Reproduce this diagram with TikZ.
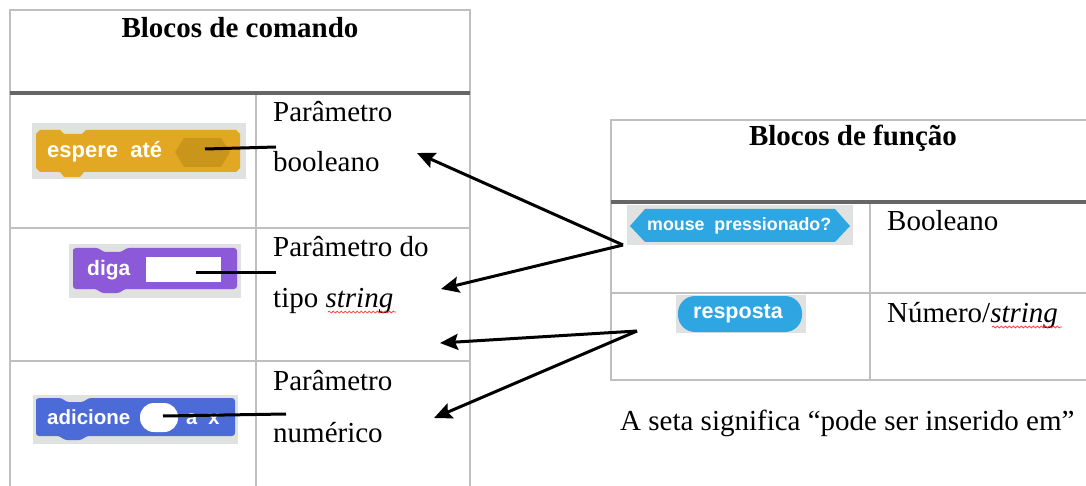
\documentclass[tikz,border=0pt]{standalone}
\usepackage{fontspec}
\setmainfont{Liberation Serif}
\setsansfont{Liberation Sans}
\usetikzlibrary{arrows.meta,decorations.pathmorphing}

\definecolor{cinzaLinha}{HTML}{BFBFBF}
\definecolor{cinzaForte}{HTML}{666666}
\definecolor{fundoBloco}{HTML}{E0E1E1}
\definecolor{laranja}{HTML}{E3A823}
\definecolor{laranjaEsc}{HTML}{C9951B}
\definecolor{roxo}{HTML}{8C59D9}
\definecolor{azul}{HTML}{4C6BD6}
\definecolor{azulClaro}{HTML}{2EA6E2}

\tikzset{
  tabthin/.style={draw=cinzaLinha,line width=1.3pt},
  tabthick/.style={draw=cinzaForte,line width=4pt},
  seta/.style={line width=3pt,-{Stealth[length=18pt,width=16pt,inset=3pt]}},
  ligacao/.style={line width=3pt},
  rotulo/.style={anchor=base west,inner sep=0pt,font=\fontsize{29}{29}\selectfont},
  cabec/.style={anchor=base,inner sep=0pt,font=\fontsize{29}{29}\selectfont\bfseries},
  txtbloco/.style={anchor=west,inner sep=0pt,text=white,font=\sffamily\bfseries\fontsize{#1}{#1}\selectfont},
  sublinhado/.style={draw=red!80,line width=0.7pt,decorate,decoration={snake,amplitude=1pt,segment length=4pt}}
}

\begin{document}
\begin{tikzpicture}[x=1pt,y=-1pt]
  \useasboundingbox (0,0) rectangle (1086,486);
  \fill[white] (0,0) rectangle (1086,486);

  % tabela da esquerda
  \draw[tabthin] (10,487) -- (10,10) -- (470,10) -- (470,487);
  \draw[tabthin] (256,93) -- (256,487);
  \draw[tabthin] (10,228) -- (470,228);
  \draw[tabthin] (10,361) -- (470,361);
  \draw[tabthick] (10,93) -- (470,93);
  \node[cabec] (cabComando) at (240,38) {Blocos de comando};

  % tabela da direita
  \draw[tabthin] (1087,120) -- (611,120) -- (611,380) -- (1087,380);
  \draw[tabthin] (870,202) -- (870,380);
  \draw[tabthin] (611,293) -- (1087,293);
  \draw[tabthick] (611,202) -- (1087,202);
  \node[cabec] (cabFuncao) at (853,146) {Blocos de função};

  % textos das células
  \node[rotulo] (par1a) at (273,122) {Parâmetro};
  \node[rotulo] (par1b) at (273,172) {booleano};
  \node[rotulo] (par2a) at (273,257) {Parâmetro do};
  \node[rotulo] (par2b) at (273,307) {tipo \textit{string}};
  \node[rotulo] (par3a) at (273,390) {Parâmetro};
  \node[rotulo] (par3b) at (273,442) {numérico};
  \node[rotulo] (tipoBool) at (887,231) {Booleano};
  \node[rotulo] (tipoNum) at (887,322) {Número/\textit{string}};
  \node[rotulo] (legenda) at (620,430) {A seta significa “pode ser inserido em”};
  \draw[sublinhado] (328,312) -- (396,312);
  \draw[sublinhado] (992,327) -- (1062,327);

  % bloco espere até
  \fill[fundoBloco] (32,123) rectangle (246,179);
  \fill[laranja] (36,134) -- (36,168) -- (40,172) -- (60,172) -- (64,177) -- (80,177)
    -- (84,172) -- (236,172) -- (240,168) -- (240,134) -- (236,130) -- (86,130)
    -- (82,134) -- (64,134) -- (60,130) -- (40,130) -- cycle;
  \fill[laranjaEsc] (175,152) -- (184,138) -- (221,138) -- (230,152) -- (221,167)
    -- (184,167) -- cycle;
  \node[txtbloco=22] (espere) at (47,152) {espere\ \ até};

  % bloco diga
  \fill[fundoBloco] (69,244) rectangle (241,298);
  \fill[roxo, rounded corners=3pt] (73,252) -- (73,289) -- (97,289) -- (101,293) -- (120,293)
    -- (124,289) -- (237,289) -- (237,248) -- (126,248) -- (122,252) -- (103,252)
    -- (99,248) -- (73,248) -- cycle;
  \fill[white] (146,257) rectangle (221,282);
  \node[txtbloco=21] (diga) at (87,270) {diga};

  % bloco adicione
  \fill[fundoBloco] (33,395) rectangle (238,444);
  \fill[azul, rounded corners=3pt] (36,402) -- (36,436) -- (60,436) -- (64,440) -- (82,440)
    -- (86,436) -- (235,436) -- (235,398) -- (88,398) -- (84,402) -- (66,402)
    -- (62,398) -- (36,398) -- cycle;
  \fill[white, rounded corners=14pt] (140,403) rectangle (178,432);
  \node[txtbloco=20.5] (adicione) at (47,417) {adicione};
  \node[txtbloco=20] (ax) at (186,419) {a\ \ x};

  % bloco mouse pressionado?
  \fill[fundoBloco] (627,205) rectangle (853,245);
  \fill[azulClaro] (630,226) -- (645,209) -- (835,209) -- (850,226) -- (835,242)
    -- (645,242) -- cycle;
  \node[txtbloco=17.8] (mouse) at (647,226) {mouse\ \ pressionado?};

  % bloco resposta
  \fill[fundoBloco] (676,295) rectangle (806,333);
  \fill[azulClaro, rounded corners=17pt] (678,296) rectangle (802,332);
  \node[txtbloco=21.5] (resposta) at (693,314) {resposta};

  % ligações das entradas aos rótulos
  \coordinate (slotEspere) at (205,149);
  \coordinate (fimEspere) at (276,147);
  \coordinate (slotDiga) at (196,272);
  \coordinate (fimDiga) at (276,272);
  \coordinate (slotAdic) at (163,416);
  \coordinate (fimAdic) at (286,414);
  \draw[ligacao] (slotEspere) -- (fimEspere);
  \draw[ligacao] (slotDiga) -- (fimDiga);
  \draw[ligacao] (slotAdic) -- (fimAdic);

  % setas
  \coordinate (saiMouse) at (623,245);
  \coordinate (saiResp) at (637,331);
  \coordinate (chegaBool) at (417,153);
  \coordinate (chegaStr1) at (441,289);
  \coordinate (chegaStr2) at (440,343);
  \coordinate (chegaNum) at (434,418);
  \draw[seta] (saiMouse) -- (chegaBool);
  \draw[seta] (saiMouse) -- (chegaStr1);
  \draw[seta] (saiResp) -- (chegaStr2);
  \draw[seta] (saiResp) -- (chegaNum);
\end{tikzpicture}
\end{document}
